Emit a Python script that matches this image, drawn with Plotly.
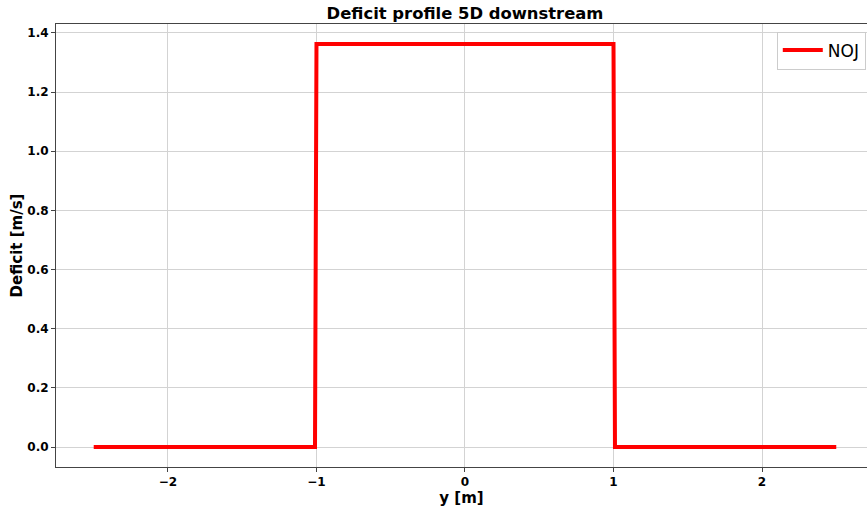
import plotly.graph_objects as go

# Data
y_pos = [-2.5, -1.01, -1.0, 1.0, 1.01, 2.5]
deficit = [0.0, 0.0, 1.3625, 1.3625, 0.0, 0.0]
series_name = "NOJ"
x_ticks = [-2, -1, 0, 1, 2]
y_ticks = [0.0, 0.2, 0.4, 0.6, 0.8, 1.0, 1.2, 1.4]

W, H = 867, 509
L, R, T, B = 56, 0, 24, 42

fig = go.Figure()
fig.add_trace(go.Scatter(x=y_pos, y=deficit, mode="lines", name=series_name,
                         line=dict(color="#ff0000", width=4)))

font = "DejaVu Sans"
fig.update_layout(
    width=W, height=H,
    margin=dict(l=L, r=R, t=T, b=B),
    paper_bgcolor="white", plot_bgcolor="white",
    font=dict(family=font, color="black"),
    title=dict(text="<b>Deficit profile 5D downstream</b>", font=dict(size=16.4, family=font, color="black"),
               x=465 / W, xref="container", xanchor="center",
               y=1 - 13 / H, yref="container", yanchor="middle"),
    showlegend=True,
    legend=dict(x=0.9985, y=0.983, xanchor="right", yanchor="top", itemwidth=40,
                bgcolor="rgba(255,255,255,0.8)", bordercolor="#cccccc", borderwidth=1,
                font=dict(size=17, family=font, color="black")),
    xaxis=dict(range=[-2.754, 2.707], tickvals=x_ticks, ticktext=[f"<b>{'−' if v < 0 else ''}{abs(v)}</b>" for v in x_ticks],
               showgrid=True, gridcolor="#d3d3d3", gridwidth=1, zeroline=False,
               showline=True, linecolor="#444444", linewidth=1, mirror=True,
               ticks="outside", ticklen=4, tickcolor="#444444",
               tickfont=dict(size=12, family=font, color="black"),
               title=dict(text="<b>y [m]</b>", font=dict(size=15, family=font, color="black"), standoff=2)),
    yaxis=dict(range=[-0.0676, 1.4304], tickvals=y_ticks, ticktext=[f"<b>{v:.1f}</b>" for v in y_ticks],
               showgrid=True, gridcolor="#d3d3d3", gridwidth=1, zeroline=False,
               showline=True, linecolor="#444444", linewidth=1,
               ticks="outside", ticklen=4, tickcolor="#444444",
               tickfont=dict(size=12, family=font, color="black"),
               title=dict(text="<b>Deficit [m/s]</b>", font=dict(size=15, family=font, color="black"), standoff=1)),
)

fig.write_html("out.html")
